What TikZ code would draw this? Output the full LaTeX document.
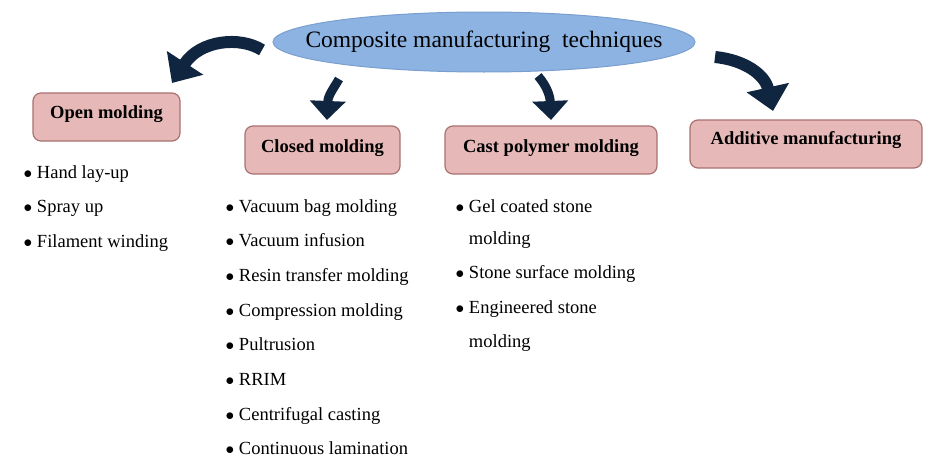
\documentclass[tikz,border=0pt]{standalone}
\usepackage{fontspec}
\setmainfont{Liberation Serif}
\usepackage{xcolor}
\usepackage{tikz}
\usetikzlibrary{shapes.geometric, arrows.meta, positioning}
\definecolor{navy}{HTML}{10253F}
\definecolor{rosefill}{HTML}{E6B9B8}
\definecolor{roseline}{HTML}{A87270}
\definecolor{skyfill}{HTML}{8DB3E2}
\definecolor{skyline}{HTML}{7A9FCF}

\tikzset{
    catbox/.style={draw=roseline, fill=rosefill, line width=1.2pt, rounded corners=8pt,
        font=\fontsize{18.5}{22}\selectfont\bfseries, inner sep=0pt},
    item/.style={font=\fontsize{18.5}{22}\selectfont, inner sep=0pt, anchor=base west},
    bigarrow/.style={draw=navy, line width=12pt, -{Triangle[width=42pt,length=24pt]}},
    downarrow/.style={draw=navy, line width=9pt, -{Triangle[width=35pt,length=19pt]}}
}

\begin{document}
\begin{tikzpicture}[x=1pt, y=-1pt]
    \useasboundingbox (0,0) rectangle (942,471);
    % main ellipse
    \node[ellipse, draw=skyline, fill=skyfill, line width=1pt, minimum width=422pt, minimum height=60pt,
        inner xsep=-40pt, inner ysep=0pt, font=\fontsize{23.5}{26}\selectfont] (main) at (484,42)
        {Composite manufacturing\ \ techniques};

    % categories
    \node[catbox, minimum width=147pt, minimum height=48pt, text depth=9pt] (open) at (106.5,117) {Open molding};
    \node[catbox, minimum width=155pt, minimum height=48pt, text depth=8pt] (closed) at (322.5,150) {Closed molding};
    \node[catbox, minimum width=212pt, minimum height=48pt, text depth=8pt] (cast) at (551,150) {Cast polymer molding};
    \node[catbox, minimum width=232pt, minimum height=48pt, text depth=12pt] (additive) at (806,144) {Additive manufacturing};

    % arrows
    \coordinate (left-start) at (262,50);
    \coordinate (left-tip) at (172,83);
    \coordinate (closed-start) at (339,79);
    \coordinate (closed-tip) at (327,120);
    \coordinate (cast-start) at (538,76);
    \coordinate (cast-tip) at (551,120);
    \coordinate (add-start) at (715,57);
    \coordinate (add-tip) at (773,111);
    \draw[bigarrow] (left-start) .. controls (240,36) and (200,40) .. (left-tip);
    \draw[downarrow] (closed-start) .. controls (334,88) and (328,95) .. (closed-tip);
    \draw[downarrow] (cast-start) .. controls (546,85) and (550,95) .. (cast-tip);
    \draw[bigarrow] (add-start) .. controls (745,60) and (765,75) .. (add-tip);

    % lists
    \foreach \t [count=\i from 0] in {Hand lay-up, Spray up, Filament winding}
        \node[item] (open-\i) at (23.5,{178+34.5*\i}) {$\bullet$\ \t};
    \foreach \t [count=\i from 0] in {Vacuum bag molding, Vacuum infusion, Resin transfer molding,
        Compression molding, Pultrusion, RRIM, Centrifugal casting, Continuous lamination}
        \node[item] (closed-\i) at (225.5,{212+34.7*\i}) {$\bullet$\ \t};
    \node[item] (cast-0) at (455.5,212) {$\bullet$\ Gel coated stone};
    \node[item] (cast-1) at (455.5,244) {$\phantom{\bullet}$\ molding};
    \node[item] (cast-2) at (455.5,278) {$\bullet$\ Stone surface molding};
    \node[item] (cast-3) at (455.5,313) {$\bullet$\ Engineered stone};
    \node[item] (cast-4) at (455.5,347) {$\phantom{\bullet}$\ molding};
\end{tikzpicture}
\end{document}
